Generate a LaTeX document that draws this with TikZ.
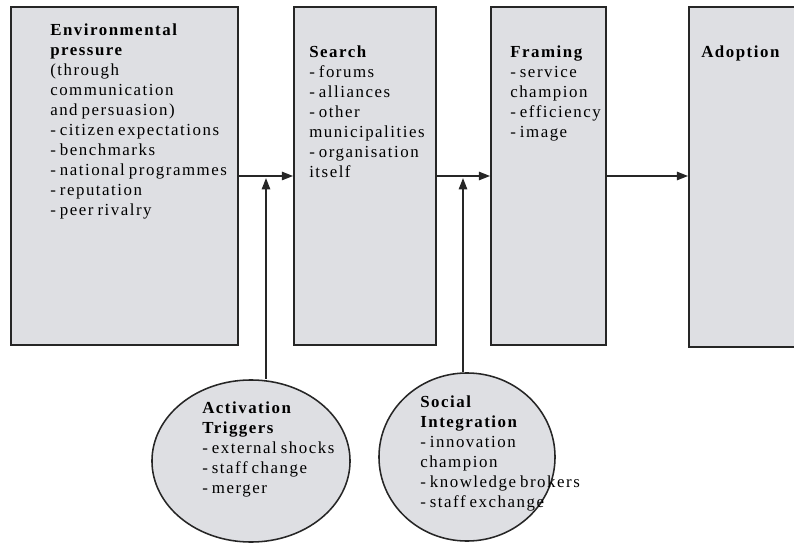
\documentclass[tikz,border=0pt]{standalone}
\usepackage{fontspec}
\setmainfont{Liberation Serif}[LetterSpace=9,WordSpace=0.7]
\usetikzlibrary{arrows.meta, shapes.geometric}

\definecolor{boxgray}{RGB}{222,223,227}
\definecolor{edgegray}{RGB}{38,38,38}

\begin{document}
\begin{tikzpicture}[x=0.025cm, y=-0.025cm,
	stage/.style={rectangle, draw=edgegray, line width=1.3pt, fill=boxgray, inner sep=0pt},
	factor/.style={ellipse, draw=edgegray, line width=1.1pt, fill=boxgray, inner sep=0pt},
	txt/.style={anchor=north west, align=left, inner sep=0pt, font=\fontsize{12}{14.2}\selectfont},
	flow/.style={draw=edgegray, line width=1pt, -{Triangle[length=8pt, width=6pt]}}]
	\useasboundingbox (0, 0) rectangle (794, 544);
	\clip (0, 0) rectangle (794, 544);

	\node (env) at (124.5, 176) [stage, minimum width=56.75mm, minimum height=84.5mm] {};
	\node (search) at (365, 176) [stage, minimum width=35.5mm, minimum height=84.5mm] {};
	\node (framing) at (548.5, 176) [stage, minimum width=28.75mm, minimum height=84.5mm] {};
	\node (adopt) at (759.5, 177) [stage, minimum width=35.25mm, minimum height=85mm] {};

	\node (trig) at (251, 461) [factor, minimum width=49.5mm, minimum height=40.5mm] {};
	\node (social) at (467, 457) [factor, minimum width=44mm, minimum height=42mm] {};

	\node (envtxt) at (50, 24) [txt] {\textbf{Environmental}\\\textbf{pressure}\\(through\\communication\\and persuasion)\\- citizen expectations\\- benchmarks\\- national programmes\\- reputation\\- peer rivalry};
	\node (searchtxt) at (309, 46) [txt] {\textbf{Search}\\- forums\\- alliances\\- other\\municipalities\\- organisation\\itself};
	\node (framingtxt) at (510, 46) [txt] {\textbf{Framing}\\- service\\champion\\- efficiency\\- image};
	\node (adopttxt) at (701, 46) [txt] {\textbf{Adoption}};
	\node (trigtxt) at (202, 402) [txt] {\textbf{Activation}\\\textbf{Triggers}\\- external shocks\\- staff change\\- merger};
	\node (socialtxt) at (420, 396) [txt] {\textbf{Social}\\\textbf{Integration}\\- innovation\\champion\\- knowledge brokers\\- staff exchange};

	\coordinate (j1) at (266, 176);
	\coordinate (j2) at (463, 176);

	\draw [flow] (env.east) -- (search.west);
	\draw [flow] (search.east) -- (framing.west);
	\draw [flow] (framing.east) -- (adopt.west |- framing.east);
	\draw [flow, shorten >=1.5pt] (j1 |- trig.north) -- (j1);
	\draw [flow, shorten >=1.5pt] (j2 |- social.north) -- (j2);
\end{tikzpicture}
\end{document}
